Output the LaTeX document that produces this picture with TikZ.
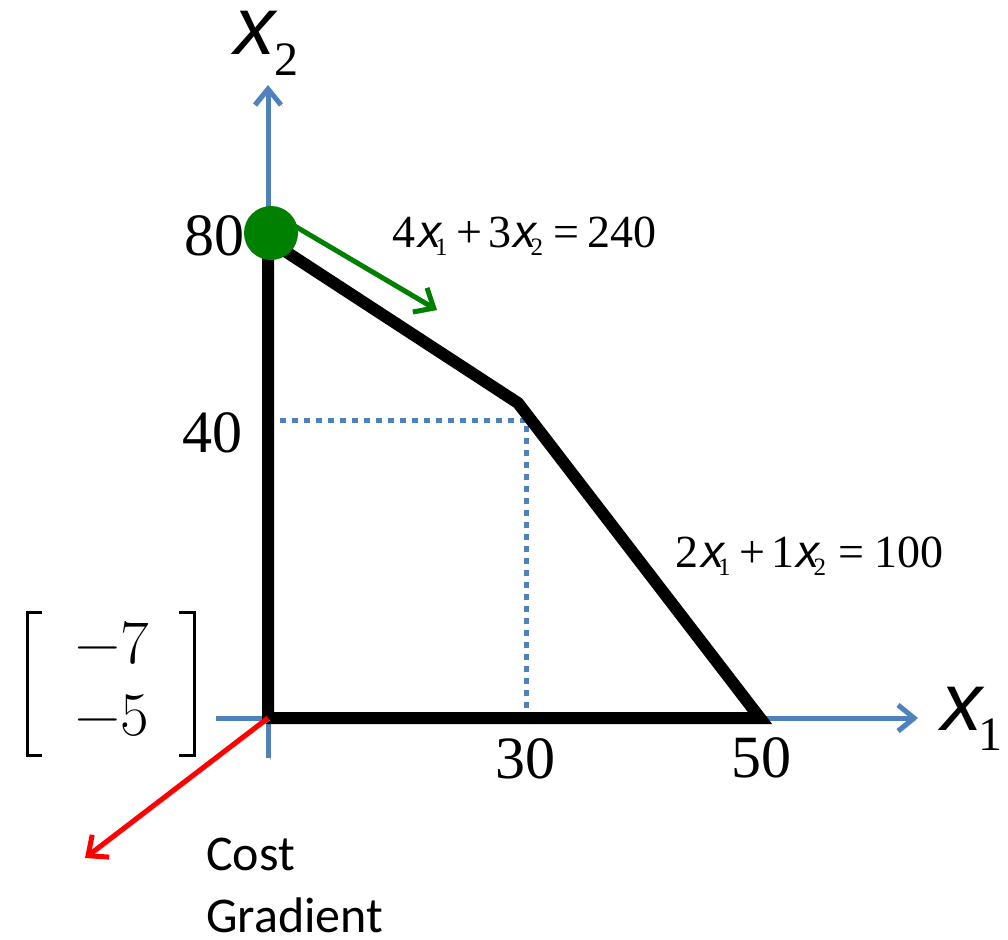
\documentclass[tikz,border=0pt]{standalone}
\usepackage{fontspec}
\usetikzlibrary{arrows.meta}
\newfontfamily\tms{Liberation Serif}
\newfontfamily\arl{Liberation Sans}
\newfontfamily\carl{Carlito}
\definecolor{axblue}{RGB}{79,129,189}
\definecolor{ptgreen}{RGB}{0,128,0}
\newcommand{\vx}[1]{{\arl\itshape x}\kern-6pt\lower8pt\hbox{\fontsize{25}{25}\tms #1}}
\begin{document}
\begin{tikzpicture}[x=1pt,y=-1pt,
  shadowed/.style={preaction={draw=gray!55,transform canvas={shift={(2,2)}}}},
  axis/.style={shadowed,draw=axblue,line width=5pt,-{Straight Barb[length=16pt,width=26pt,line width=5pt]}},
  guide/.style={draw=axblue,line width=5pt,dash pattern=on 6pt off 6pt},
  region/.style={shadowed,draw=black,line width=12pt,line join=miter},
  lbl/.style={inner sep=0pt,font=\fontsize{60}{60}\tms},
  eqn/.style={inner sep=0pt,font=\fontsize{46}{50}\tms},
  cvec/.style={inner sep=0pt,font=\fontsize{62}{62}\selectfont},
  brk/.style={draw=black,line width=3pt},
  greenarrow/.style={shadowed,draw=ptgreen,line width=5pt,-{Straight Barb[length=16pt,width=28pt,line width=5pt]}},
  redarrow/.style={shadowed,draw=red,line width=5pt,-{Straight Barb[length=16pt,width=28pt,line width=5pt]}}]
\useasboundingbox (0,0) rectangle (1008,939);
% key points
\coordinate (O) at (268,718);
\coordinate (A) at (268,240);
\coordinate (B) at (518,403);
\coordinate (C) at (760,718);
\coordinate (Q) at (526,420);
\coordinate (Qx) at (526,718);
\coordinate (Qy) at (268,420);
\coordinate (Xs) at (216,718);
\coordinate (Xe) at (918,718);
\coordinate (Ys) at (268,758);
\coordinate (Ye) at (268,85);
% guides
\draw[guide] (Qy) -- (Q) -- (Qx);
% axes
\draw[axis] (Xs) -- (Xe);
\draw[axis] (Ys) -- (Ye);
% feasible region
\draw[region] (O) -- (A) -- (B) -- (C) -- cycle;
% optimum
\node[circle,fill=ptgreen,minimum size=54pt,inner sep=0pt] (opt) at (271,233) {};
% arrows
\coordinate (g1) at (293,225);
\coordinate (g2) at (437,310);
\draw[greenarrow] (g1) -- (g2);
\coordinate (r2) at (85,858);
\draw[redarrow] (O) -- (r2);
% labels
\node[lbl,anchor=base east] (l80) at (245,255) {80};
\node[lbl,anchor=base east] (l40) at (243,452) {40};
\node[lbl,anchor=base] (l30) at (525,778) {30};
\node[lbl,anchor=base] (l50) at (761,777) {50};
\node[inner sep=0pt,anchor=base west,font=\fontsize{82}{82}\arl\itshape] (x1) at (941,730) {x};
\node[inner sep=0pt,anchor=base west,font=\fontsize{48}{48}\tms] (x1s) at (978,750) {1};
\node[inner sep=0pt,anchor=base west,font=\fontsize{82}{82}\arl\itshape] (x2) at (234,55) {x};
\node[inner sep=0pt,anchor=base west,font=\fontsize{48}{48}\tms] (x2s) at (274,76) {2};
\node[eqn,anchor=base west] (e1) at (392,247)
  {4\kern3pt\vx{1}\kern9pt+\kern6pt3\kern2pt\vx{2}\kern10pt=\kern8pt240};
\node[eqn,anchor=base west] (e2) at (675,567)
  {2\kern3pt\vx{1}\kern9pt+\kern6pt1\kern2pt\vx{2}\kern12pt=\kern10pt100};
% cost vector
\coordinate (lb1) at (42,612);
\coordinate (lb2) at (27,612);
\coordinate (lb3) at (27,755);
\coordinate (lb4) at (42,755);
\coordinate (rb1) at (179,612);
\coordinate (rb2) at (194,612);
\coordinate (rb3) at (194,755);
\coordinate (rb4) at (179,755);
\draw[brk] (lb1) -- (lb2) -- (lb3) -- (lb4);
\draw[brk] (rb1) -- (rb2) -- (rb3) -- (rb4);
\node[cvec,anchor=base east] (c1) at (149,663) {−7};
\node[cvec,anchor=base east] (c2) at (149,735) {−5};
\node[inner sep=0pt,anchor=base west,align=left,font=\fontsize{50}{62}\carl] (cg) at (206,932) {Cost\\Gradient};
\end{tikzpicture}
\end{document}
